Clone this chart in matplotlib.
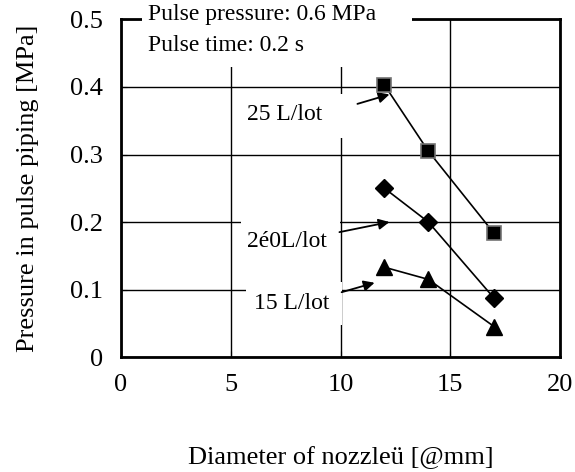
import matplotlib
matplotlib.use('Agg')
import matplotlib.pyplot as plt
from matplotlib.patches import Rectangle

plt.rcParams['font.family'] = ['Liberation Serif', 'DejaVu Serif']

# nozzle diameter [mm]
diameter = [12, 14, 17]
# pressure in pulse piping [MPa]
p_25 = [0.403, 0.305, 0.183]
p_20 = [0.250, 0.200, 0.087]
p_15 = [0.133, 0.115, 0.045]

xticks = [0, 5, 10, 15, 20]
yticks = [0, 0.1, 0.2, 0.3, 0.4, 0.5]
ytick_labels = ['0', '0.1', '0.2', '0.3', '0.4', '0.5']

fig = plt.figure(figsize=(5.75, 4.72), dpi=100)
ax = fig.add_axes([0.2104, 0.2436, 0.7636, 0.7151])

ax.set_xlim(0, 20)
ax.set_ylim(0, 0.5)
ax.set_xticks(xticks)
ax.set_yticks(yticks)
ax.set_yticklabels(ytick_labels)
ax.tick_params(direction='in', labelsize=19, length=4)
ax.tick_params(axis='y', pad=13)
ax.tick_params(axis='x', pad=12)
ax.grid(True, color='k', lw=1.0)
ax.set_axisbelow(True)
for s in ax.spines.values():
    s.set_linewidth(2.0)

# white boxes behind labels
def white_box(x0, x1, y0, y1, z=1.5):
    ax.add_patch(Rectangle((x0, y0), x1 - x0, y1 - y0, facecolor='white',
                           edgecolor='none', zorder=z, clip_on=False))

white_box(0.95, 13.27, 0.429, 0.53, z=3)
white_box(5.4, 10.2, 0.325, 0.39)
white_box(5.45, 9.97, 0.141, 0.225)
white_box(5.7, 10.05, 0.048, 0.111)

ax.plot(diameter, p_25, color='k', lw=1.2, marker='s', ms=9.5,
        mfc='k', mec='0.45', mew=1.2, zorder=5)
ax.plot(diameter, p_20, color='k', lw=1.2, marker='D', ms=9.5,
        mfc='k', mec='k', zorder=5)
ax.plot(diameter, p_15, color='k', lw=1.2, marker='^', ms=12,
        mfc='k', mec='k', zorder=5)

ax.text(1.23, 0.507, 'Pulse pressure: 0.6 MPa', fontsize=17, va='center', zorder=4)
ax.text(1.23, 0.461, 'Pulse time: 0.2 s', fontsize=17, va='center', zorder=4)

arrow = dict(arrowstyle='-|>', color='k', lw=1.3, mutation_scale=16, shrinkA=0, shrinkB=0)
ax.annotate('', xy=(12.23, 0.389), xytext=(10.77, 0.375), arrowprops=arrow, zorder=4)
ax.annotate('', xy=(12.23, 0.200), xytext=(9.95, 0.185), arrowprops=arrow, zorder=4)
ax.annotate('', xy=(11.55, 0.110), xytext=(10.05, 0.096), arrowprops=arrow, zorder=4)

ax.text(7.45, 0.359, '25 L/lot', fontsize=17, ha='center', va='center', zorder=4)
ax.text(7.55, 0.171, '2é0L/lot', fontsize=17, ha='center', va='center', zorder=4)
ax.text(7.77, 0.079, '15 L/lot', fontsize=17, ha='center', va='center', zorder=4)

ax.set_xlabel('Diameter of nozzleü [@mm]', fontsize=19, labelpad=36)
ax.set_ylabel('Pressure in pulse piping [MPa]', fontsize=19, labelpad=22)

fig.savefig('out.png', dpi=100)
